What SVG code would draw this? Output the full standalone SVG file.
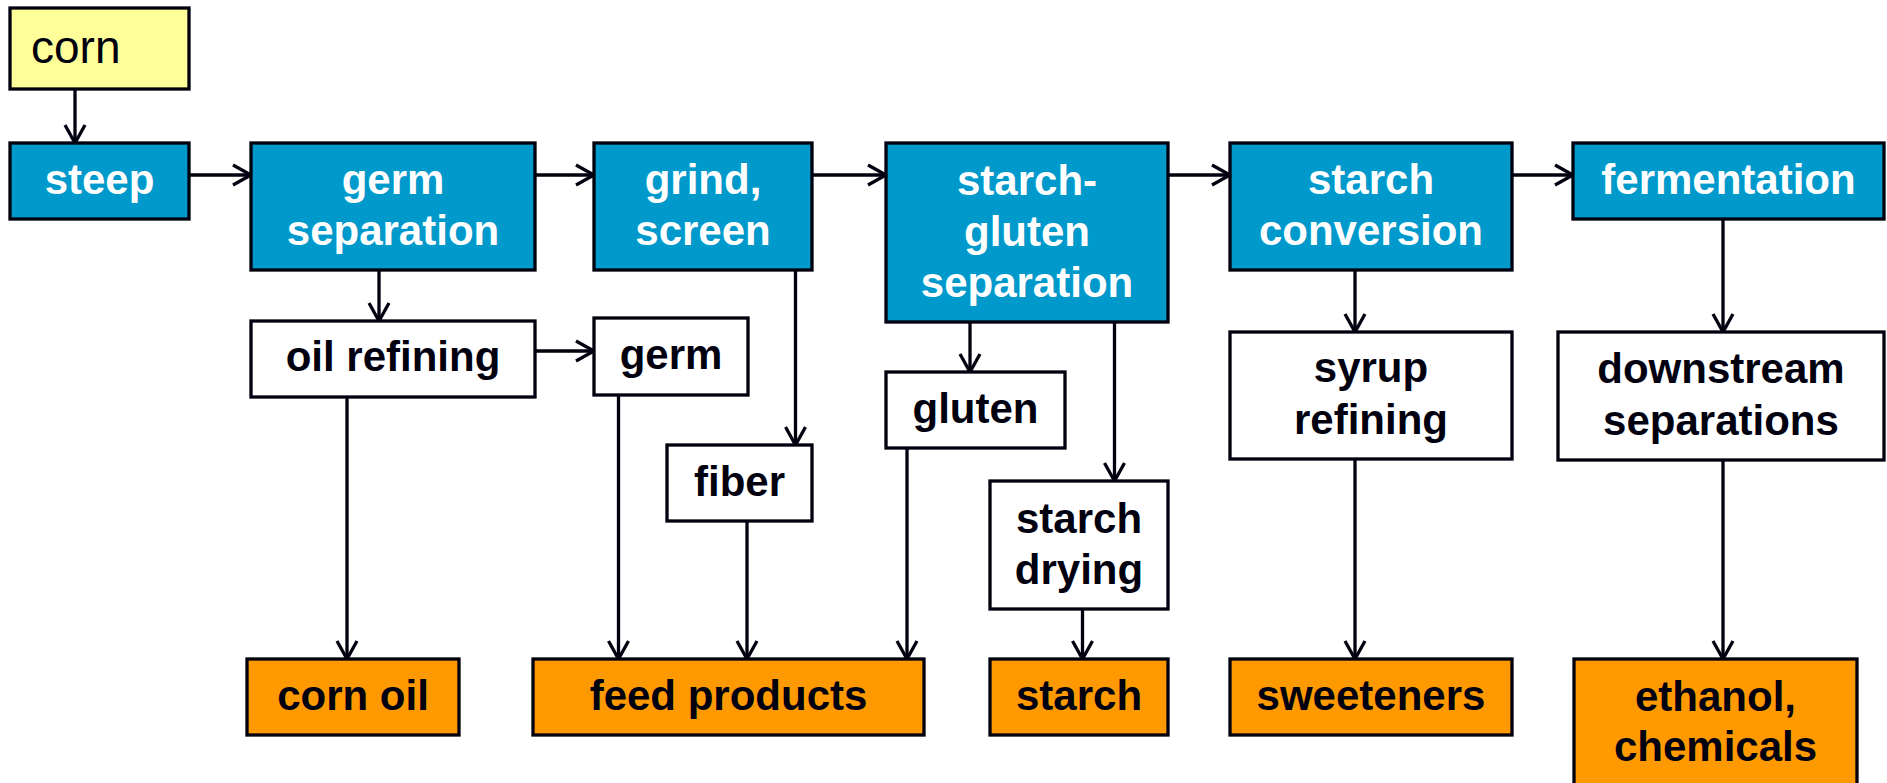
<svg xmlns="http://www.w3.org/2000/svg" width="1887" height="783" viewBox="0 0 1887 783">
<style>
.b,.w,.o,.y{stroke:#00000f;stroke-width:3.3}
.b{fill:#0099cc}
.w{fill:#ffffff}
.o{fill:#ff9900}
.y{fill:#ffff99}
text{font-family:"Liberation Sans",Arial,sans-serif;font-weight:bold;font-size:42px;text-anchor:middle}
.bt{fill:#ffffff}
.dt{fill:#00000f}
#connectors line{stroke:#00000f;stroke-width:3.3;marker-end:url(#ah)}
</style>
<defs>
<marker id="ah" markerUnits="userSpaceOnUse" viewBox="0 0 22 24" markerWidth="22" markerHeight="24" refX="20" refY="12" orient="auto">
<path d="M2,2 L20,12 L2,22" fill="none" stroke="#00000f" stroke-width="3.3"/>
</marker>
</defs>
<rect width="1887" height="783" fill="#ffffff"/>
<g id="connectors">
<line x1="75" y1="89" x2="75" y2="143"/>
<line x1="189" y1="175" x2="251" y2="175"/>
<line x1="535" y1="175" x2="594" y2="175"/>
<line x1="812" y1="175" x2="886" y2="175"/>
<line x1="1168" y1="175" x2="1230" y2="175"/>
<line x1="1512" y1="175" x2="1573" y2="175"/>
<line x1="379" y1="270" x2="379" y2="321"/>
<line x1="535" y1="351" x2="594" y2="351"/>
<line x1="795.5" y1="270" x2="795.5" y2="445"/>
<line x1="347" y1="397" x2="347" y2="659"/>
<line x1="618.5" y1="395" x2="618.5" y2="659"/>
<line x1="747" y1="521" x2="747" y2="659"/>
<line x1="907" y1="448" x2="907" y2="659"/>
<line x1="970" y1="322" x2="970" y2="372"/>
<line x1="1114.5" y1="322" x2="1114.5" y2="481"/>
<line x1="1082.5" y1="609" x2="1082.5" y2="659"/>
<line x1="1355" y1="270" x2="1355" y2="332"/>
<line x1="1355" y1="459" x2="1355" y2="659"/>
<line x1="1723" y1="219" x2="1723" y2="332"/>
<line x1="1723" y1="460" x2="1723" y2="659"/>
</g>
<g id="corn"><rect class="y" x="10" y="8" width="179" height="81"/><text class="dt" x="31" y="63" style="font-weight:normal;font-size:46px;text-anchor:start">corn</text></g>
<g id="steep"><rect class="b" x="10" y="143" width="179" height="76"/><text class="bt" x="99.5" y="194">steep</text></g>
<g id="germ-separation"><rect class="b" x="251" y="143" width="284" height="127"/><text class="bt" x="393" y="194">germ</text><text class="bt" x="393" y="245">separation</text></g>
<g id="grind-screen"><rect class="b" x="594" y="143" width="218" height="127"/><text class="bt" x="703" y="194">grind,</text><text class="bt" x="703" y="245">screen</text></g>
<g id="starch-gluten-separation"><rect class="b" x="886" y="143" width="282" height="179"/><text class="bt" x="1027" y="194.5">starch-</text><text class="bt" x="1027" y="245.5">gluten</text><text class="bt" x="1027" y="296.5">separation</text></g>
<g id="starch-conversion"><rect class="b" x="1230" y="143" width="282" height="127"/><text class="bt" x="1371" y="194">starch</text><text class="bt" x="1371" y="245">conversion</text></g>
<g id="fermentation"><rect class="b" x="1573" y="143" width="311" height="76"/><text class="bt" x="1728.5" y="194">fermentation</text></g>
<g id="oil-refining"><rect class="w" x="251" y="321" width="284" height="76"/><text class="dt" x="393" y="371">oil refining</text></g>
<g id="germ"><rect class="w" x="594" y="318" width="154" height="77"/><text class="dt" x="671" y="369">germ</text></g>
<g id="fiber"><rect class="w" x="667" y="445" width="145" height="76"/><text class="dt" x="739.5" y="496">fiber</text></g>
<g id="gluten"><rect class="w" x="886" y="372" width="179" height="76"/><text class="dt" x="975.5" y="423">gluten</text></g>
<g id="starch-drying"><rect class="w" x="990" y="481" width="178" height="128"/><text class="dt" x="1079" y="532.5">starch</text><text class="dt" x="1079" y="583.5">drying</text></g>
<g id="syrup-refining"><rect class="w" x="1230" y="332" width="282" height="127"/><text class="dt" x="1371" y="382">syrup</text><text class="dt" x="1371" y="433.5">refining</text></g>
<g id="downstream-separations"><rect class="w" x="1558" y="332" width="326" height="128"/><text class="dt" x="1721" y="383">downstream</text><text class="dt" x="1721" y="434.5">separations</text></g>
<g id="corn-oil"><rect class="o" x="247" y="659" width="212" height="76"/><text class="dt" x="353" y="710">corn oil</text></g>
<g id="feed-products"><rect class="o" x="533" y="659" width="391" height="76"/><text class="dt" x="728.5" y="710">feed products</text></g>
<g id="starch"><rect class="o" x="990" y="659" width="178" height="76"/><text class="dt" x="1079" y="710">starch</text></g>
<g id="sweeteners"><rect class="o" x="1230" y="659" width="282" height="76"/><text class="dt" x="1371" y="710">sweeteners</text></g>
<g id="ethanol-chemicals"><rect class="o" x="1574" y="659" width="283" height="127"/><text class="dt" x="1715.5" y="710.5">ethanol,</text><text class="dt" x="1715.5" y="760.5">chemicals</text></g>
</svg>
